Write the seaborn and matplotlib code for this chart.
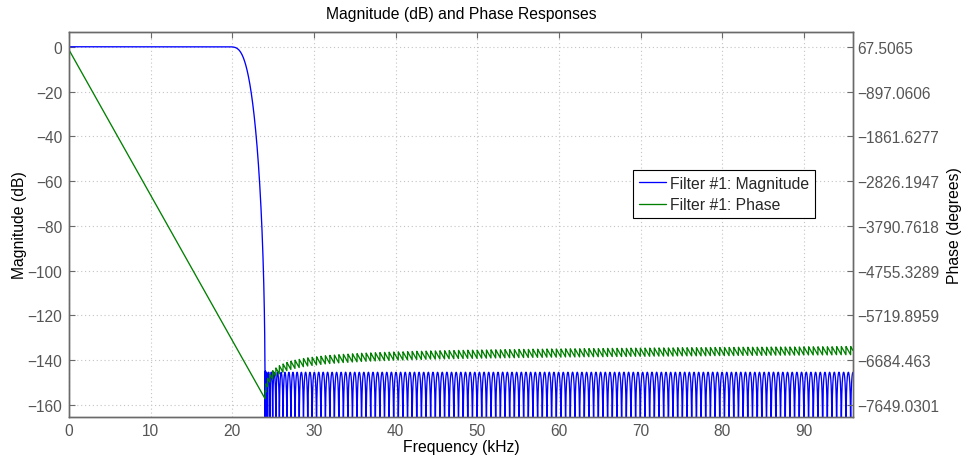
import numpy as np
import pandas as pd
import matplotlib
matplotlib.use("Agg")
import matplotlib.pyplot as plt
from matplotlib.lines import Line2D
import seaborn as sns

# ---- filter specification (lowpass FIR, linear phase) ----
sample_rate_khz = 192.0
num_taps = 335
pass_edge_khz = 19.3
stop_edge_khz = 24.0
stop_weight = 30.0
n_freq_points = 8192

# ---- axis layout values ----
freq_ticks = [0, 10, 20, 30, 40, 50, 60, 70, 80, 90]
mag_ticks = [0, -20, -40, -60, -80, -100, -120, -140, -160]
phase_tick_labels = ["67.5065", "\u2212897.0606", "\u22121861.6277", "\u22122826.1947",
                     "\u22123790.7618", "\u22124755.3289", "\u22125719.8959",
                     "\u22126684.463", "\u22127649.0301"]
mag_limits = (-165.2, 6.6)
freq_limits = (0, 96)
series_names = ["Filter #1: Magnitude", "Filter #1: Phase"]


def error_envelope(err):
    """Piecewise-linear envelope through the local maxima of an error curve."""
    inner = (err[1:-1] >= err[:-2]) & (err[1:-1] >= err[2:])
    idx = np.concatenate([[0], np.nonzero(inner)[0] + 1, [len(err) - 1]])
    return np.interp(np.arange(len(err)), idx, err[idx])


def minimax_lowpass(ntaps, fp, fst, fs, k_stop, iters=70):
    """Weighted equiripple type-I lowpass via envelope-weighted Lawson iterations."""
    m = (ntaps - 1) // 2
    wp = 2 * np.pi * fp / fs
    ws = 2 * np.pi * fst / fs
    total = 16 * (m + 1)
    n_pass = int(total * wp / (wp + np.pi - ws)) + 2
    n_stop = total - n_pass + 2
    w = np.concatenate([np.linspace(0, wp, n_pass), np.linspace(ws, np.pi, n_stop)])
    d = np.concatenate([np.ones(n_pass), np.zeros(n_stop)])
    wf = np.concatenate([np.ones(n_pass), np.full(n_stop, k_stop)])
    basis = np.cos(np.outer(w, np.arange(m + 1)))
    wt = np.ones_like(w) / len(w)
    for _ in range(iters):
        sw = np.sqrt(wt) * wf
        a, *_ = np.linalg.lstsq(basis * sw[:, None], d * sw, rcond=None)
        err = wf * np.abs(basis @ a - d)
        env = np.concatenate([error_envelope(err[:n_pass]), error_envelope(err[n_pass:])])
        wt = wt * np.maximum(env, 1e-300)
        wt /= wt.sum()
    return np.concatenate([a[:0:-1] / 2, [a[0]], a[1:] / 2])


taps = minimax_lowpass(num_taps, pass_edge_khz, stop_edge_khz, sample_rate_khz, stop_weight)
resp = np.fft.fft(taps, 2 * n_freq_points)[:n_freq_points]
freq_khz = np.arange(n_freq_points) * sample_rate_khz / (2 * n_freq_points)
mag_db = 20 * np.log10(np.maximum(np.abs(resp), 1e-30))
phase_deg = np.degrees(np.unwrap(np.angle(resp)))

df = pd.DataFrame({"freq": freq_khz, "mag": mag_db, "phase": phase_deg})

# right-axis scale follows the left-axis ticks linearly
phase_tick_values = [float(s.replace("\u2212", "-")) for s in phase_tick_labels]
deg_per_db = (phase_tick_values[0] - phase_tick_values[1]) / (mag_ticks[0] - mag_ticks[1])
phase_limits = tuple(phase_tick_values[0] + deg_per_db * (v - mag_ticks[0]) for v in mag_limits)

sns.set_theme(style="white")
plt.rcParams["font.family"] = ["Liberation Sans", "DejaVu Sans"]

W, H = 964, 460
fig = plt.figure(figsize=(W / 100, H / 100), dpi=100)
left, right, top, bottom = 69, 853, 33, 417.5
ax = fig.add_axes([left / W, 1 - bottom / H, (right - left) / W, (bottom - top) / H])

sns.lineplot(data=df, x="freq", y="mag", ax=ax, color="blue", lw=0.95,
             legend=False, sort=False, estimator=None)
ax2 = ax.twinx()
sns.lineplot(data=df, x="freq", y="phase", ax=ax2, color="#008000", lw=0.95,
             legend=False, sort=False, estimator=None)

spine_col = "#6a6a6a"
tick_col = "#555555"
fs_tick = 11.2
fs_lab = 11.3

ax.set_xlim(*freq_limits)
ax.set_ylim(*mag_limits)
ax2.set_ylim(*phase_limits)
ax.set_xticks(freq_ticks)
ax.set_yticks(mag_ticks)
ax.set_yticklabels([str(v).replace("-", "\u2212") for v in mag_ticks])
ax2.set_yticks(phase_tick_values)
ax2.set_yticklabels(phase_tick_labels)

ax.grid(True, color="#c4c4c4", linestyle=(0, (1, 2.5)), linewidth=0.8)
for a in (ax, ax2):
    for s in a.spines.values():
        s.set_color(spine_col)
        s.set_linewidth(1.0)
ax.tick_params(axis="both", direction="in", length=4.5, width=0.8, color=spine_col,
               labelcolor=tick_col, labelsize=fs_tick, top=True, right=False)
ax.tick_params(axis="x", pad=5)
ax.tick_params(axis="y", pad=5)
ax2.tick_params(axis="y", direction="in", length=4.5, width=0.8, color=spine_col,
                labelcolor=tick_col, labelsize=fs_tick, pad=3)

ax.set_xlabel("Frequency (kHz)", fontsize=fs_lab, color="black")
ax.set_ylabel("Magnitude (dB)", fontsize=fs_lab, color="black")
ax2.set_ylabel("Phase (degrees)", fontsize=fs_lab, color="black")
ax.xaxis.set_label_coords(0.5, -0.058)
ax.yaxis.set_label_coords(-0.053, 0.5)
ax2.yaxis.set_label_coords(1.12, 0.5)
ax.set_title("Magnitude (dB) and Phase Responses", fontsize=fs_lab, color="black", pad=10)

handles = [Line2D([], [], color="blue", lw=0.95), Line2D([], [], color="#008000", lw=0.95)]
leg = ax2.legend(handles, series_names, loc="upper left", bbox_to_anchor=(0.7198, 0.641),
                 frameon=True, fancybox=False, framealpha=1, edgecolor="black",
                 fontsize=fs_lab, borderpad=0.35, handlelength=1.75, handletextpad=0.25,
                 labelspacing=0.42, borderaxespad=0)
leg.get_frame().set_linewidth(0.8)

fig.savefig("out.png", dpi=100)
